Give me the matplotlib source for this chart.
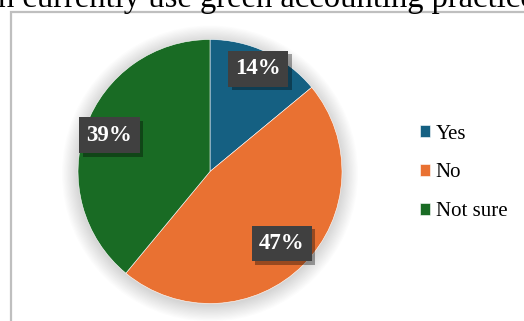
import matplotlib
matplotlib.use("Agg")
import matplotlib.pyplot as plt
import matplotlib.patheffects as pe
from matplotlib.patches import Circle, Rectangle
import numpy as np

# Survey responses
categories = ["Yes", "No", "Not sure"]
shares = [14, 47, 39]
colors = ["#156082", "#E97132", "#196B24"]
title_text = "n currently use green accounting practices"

W, H = 524, 321
fig = plt.figure(figsize=(W / 100, H / 100), dpi=100)
fig.patch.set_facecolor("white")

# axes in pixel units (1 unit = 1 px, y up)
ax = fig.add_axes([0, 0, 1, 1])

cx, cy, r = 210, H - 171.5, 132

# soft drop shadow around the pie
for k in range(14):
    ax.add_patch(Circle((cx, cy - 2), r + 16 - k * 1.2, facecolor="#000000",
                        edgecolor="none", alpha=0.013, zorder=1))

wedges, _ = ax.pie(shares, colors=colors, startangle=90, counterclock=False,
                   center=(cx, cy), radius=r, frame=True,
                   wedgeprops=dict(edgecolor="white", linewidth=0.4, zorder=2))
ax.set_xlim(0, W)
ax.set_ylim(0, H)
ax.set_aspect("equal")
ax.axis("off")

# percentage labels on dark boxes
label_radius = [0.86, 0.77, 0.81]
for w, v, f in zip(wedges, shares, label_radius):
    ang = np.deg2rad((w.theta1 + w.theta2) / 2)
    x = cx + f * r * np.cos(ang)
    y = cy + f * r * np.sin(ang)
    t = ax.text(x, y, f"{v}%", ha="center", va="center", color="white",
                fontsize=16.5, fontweight="bold", family="Liberation Serif", zorder=5,
                bbox=dict(boxstyle="square,pad=0.32", facecolor="#404040",
                          edgecolor="none"))
    t.get_bbox_patch().set_path_effects([
        pe.SimplePatchShadow(offset=(2.5, -2.5), shadow_rgbFace="#000000", alpha=0.35),
        pe.Normal()])

# legend
leg = fig.legend(wedges, categories, loc="center left",
                 bbox_to_anchor=(420 / W, 1 - 173 / H),
                 frameon=False,
                 prop=dict(family="Liberation Serif", size=15),
                 handlelength=0.5, handleheight=0.5, handletextpad=0.25,
                 labelspacing=0.95, borderpad=0, borderaxespad=0)

# chart frame
fig.patches.append(Rectangle((10.5 / W, -0.1), 1.2, 1 - 12 / H + 0.1,
                             transform=fig.transFigure, fill=False,
                             edgecolor="#bfbfbf", linewidth=1.6))

# title (runs off the top of the canvas)
fig.text(-2 / W, 1 - 7 / H, title_text, ha="left", va="baseline",
         fontsize=23.5, family="Liberation Serif", color="black")

fig.savefig("out.png", dpi=100)
